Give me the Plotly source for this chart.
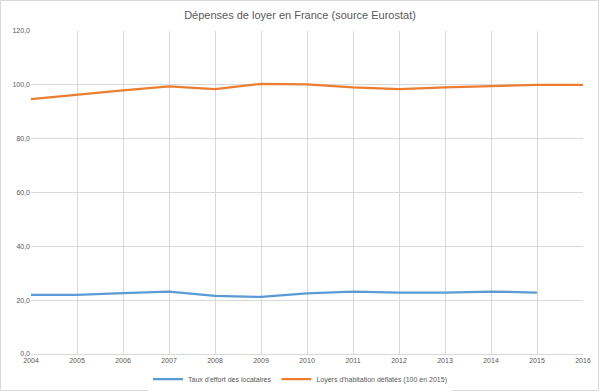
import plotly.graph_objects as go

years = [2004, 2005, 2006, 2007, 2008, 2009, 2010, 2011, 2012, 2013, 2014, 2015, 2016]
taux_effort = [22.0, 22.0, 22.6, 23.2, 21.6, 21.2, 22.5, 23.2, 22.8, 22.8, 23.2, 22.8, None]
loyers_deflates = [94.7, 96.4, 97.9, 99.4, 98.4, 100.4, 100.2, 99.1, 98.4, 99.1, 99.5, 100.0, 100.0]
y_ticks = [0, 20, 40, 60, 80, 100, 120]

W, H = 600, 392
ml, mr, mt, mb = 31, 17, 31, 38

fig = go.Figure()
fig.add_trace(go.Scatter(x=years, y=taux_effort, mode="lines", name="Taux d'effort des locataires",
                         line=dict(color="#5B9BD5", width=2.25)))
fig.add_trace(go.Scatter(x=years, y=loyers_deflates, mode="lines", name="Loyers d'habitation déflatés (100 en 2015)",
                         line=dict(color="#ED7D31", width=2.25)))

pw = W - ml - mr
ph = H - mt - mb
fig.update_layout(
    width=W, height=H,
    margin=dict(l=ml, r=mr, t=mt, b=mb, autoexpand=False),
    paper_bgcolor="white", plot_bgcolor="white",
    separators=", ",
    font=dict(family="Liberation Sans", color="#595959", size=7),
    title=dict(text="Dépenses de loyer en France (source Eurostat)", x=0.5, xanchor="center",
               yref="container", y=1 - 15 / H, yanchor="middle", font=dict(size=11, color="#595959")),
    xaxis=dict(range=[2004, 2016], tickmode="array", tickvals=years, ticktext=[str(y) for y in years],
               showgrid=True, gridcolor="#D9D9D9", gridwidth=1, zeroline=False, automargin=False,
               showline=True, linecolor="#D9D9D9", ticks="", tickfont=dict(size=7, color="#595959")),
    yaxis=dict(range=[0, 120], tickmode="array", tickvals=y_ticks, tickformat=".1f",
               showgrid=True, gridcolor="#D9D9D9", gridwidth=1, zeroline=False, automargin=False,
               showline=False, ticks="", tickfont=dict(size=7, color="#595959")),
    legend=dict(orientation="h", x=0.5 - 7 / pw, xanchor="center", yref="container", y=1 - 379 / H, yanchor="middle",
                font=dict(size=7, color="#595959"), tracegroupgap=0),
    showlegend=True,
)
fig.add_shape(type="rect", xref="paper", yref="paper",
              x0=-(ml - 0.5) / pw, x1=1 + (mr - 1.5) / pw,
              y0=-(mb - 1.5) / ph, y1=1 + (mt - 0.5) / ph,
              line=dict(color="#D9D9D9", width=1), fillcolor="rgba(0,0,0,0)", layer="below")

fig.write_html("out.html", config={"displayModeBar": False, "staticPlot": True},
               post_script="document.body.style.margin='0';document.body.style.overflow='hidden';")
